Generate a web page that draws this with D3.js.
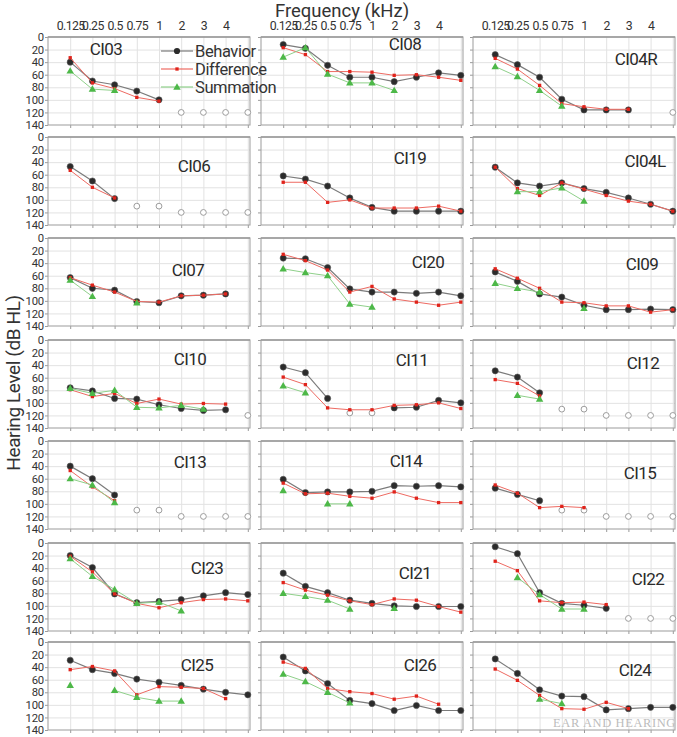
<!DOCTYPE html>
<html><head><meta charset="utf-8">
<script src="https://cdn.jsdelivr.net/npm/d3@7"></script>
<style>body{margin:0;background:#fff} svg{display:block}</style>
</head><body><svg id="c" width="677" height="737"></svg>
<script>
const _ = null;
const freqLabels = ["0.125","0.25","0.5","0.75","1","2","3","4",""];
const yTicks = [0,20,40,60,80,100,120,140];
const panelNames = ["CI03","CI08","CI04R","CI06","CI19","CI04L","CI07","CI20","CI09",
  "CI10","CI11","CI12","CI13","CI14","CI15","CI23","CI21","CI22","CI25","CI26","CI24"];
const seriesNames = ["Behavior","Difference","Summation"];

// thresholds (dB HL) at 0.125,0.25,0.5,0.75,1,2,3,4,8 kHz, one row per panel
const behavior = [
  [40,70,76,86,100,_,_,_,_],        // CI03
  [12,18,45,64,64,71,64,57,61],     // CI08
  [28,44,64,99,116,116,116,_,_],    // CI04R
  [47,70,98,_,_,_,_,_,_],           // CI06
  [62,67,78,97,112,118,118,118,118],// CI19
  [48,73,78,73,82,88,97,107,118],   // CI04L
  [63,80,83,101,103,92,91,89,_],    // CI07
  [32,33,47,81,86,86,88,86,92],     // CI20
  [54,69,89,94,107,114,114,113,114],// CI09
  [76,81,93,94,103,109,112,111,_],  // CI10
  [43,52,93,_,_,108,107,96,100],    // CI11
  [49,59,84,_,_,_,_,_,_],           // CI12
  [40,60,86,_,_,_,_,_,_],           // CI13
  [61,82,81,81,80,71,72,71,73],     // CI14
  [75,85,95,_,_,_,_,_,_],           // CI15
  [20,39,81,95,93,90,84,79,82],     // CI23
  [48,69,79,91,96,100,101,101,101], // CI21
  [6,17,79,96,99,104,_,_,_],        // CI22
  [29,44,50,59,64,69,75,80,84],     // CI25
  [24,46,66,93,98,109,101,109,109], // CI26
  [27,50,76,86,87,108,106,104,104]  // CI24
];
const difference = [
  [33,73,82,96,102,_,_,_,_],
  [17,28,55,55,56,61,60,64,69],
  [34,51,77,106,111,115,115,_,_],
  [53,80,97,_,_,_,_,_,_],
  [72,72,104,100,113,113,113,110,118],
  [48,82,93,73,83,93,102,107,118],
  [63,75,86,101,102,92,91,89,_],
  [26,36,51,86,77,97,102,107,102],
  [49,64,80,102,103,108,108,118,114],
  [79,90,85,101,94,102,101,102,_],
  [59,71,108,111,111,104,103,100,109],
  [63,69,89,_,_,_,_,_,_],
  [47,73,95,_,_,_,_,_,_],
  [67,84,83,88,91,81,91,98,98],
  [70,83,106,104,106,_,_,_,_],
  [21,46,81,96,103,95,90,89,92],
  [63,75,83,92,98,89,91,101,110],
  [29,44,92,95,94,98,_,_,_],
  [44,39,46,84,71,72,74,90,_],
  [32,42,74,79,82,91,86,99,_],
  [43,61,85,106,107,96,106,_,_]
];
const summation = [
  [54,83,85,_,_,_,_,_,_],
  [32,17,59,73,73,85,_,_,_],
  [47,63,85,110,_,_,_,_,_],
  [_,_,_,_,_,_,_,_,_],
  [_,_,_,_,_,_,_,_,_],
  [_,87,87,81,102,_,_,_,_],
  [67,93,_,103,_,_,_,_,_],
  [49,55,60,105,110,_,_,_,_],
  [72,80,86,_,112,_,_,_,_],
  [77,85,80,107,108,104,110,_,_],
  [73,84,_,_,_,_,_,_,_],
  [_,88,94,_,_,_,_,_,_],
  [60,70,98,_,_,_,_,_,_],
  [79,_,100,100,_,_,_,_,_],
  [_,_,_,_,_,_,_,_,_],
  [25,53,74,96,94,108,_,_,_],
  [80,85,91,105,_,104,_,_,_],
  [_,55,82,105,105,_,_,_,_],
  [69,_,77,88,94,94,_,_,_],
  [51,63,80,97,_,_,_,_,_],
  [_,_,91,98,_,_,_,_,_]
];
// no-response markers (open circles)
const noResponse = [
  [_,_,_,_,_,120,120,120,120],
  [_,_,_,_,_,_,_,_,_],
  [_,_,_,_,_,_,_,_,120],
  [_,_,_,110,110,120,120,120,120],
  [_,_,_,_,_,_,_,_,_],
  [_,_,_,_,_,_,_,_,_],
  [_,_,_,_,_,_,_,_,_],
  [_,_,_,_,_,_,_,_,_],
  [_,_,_,_,_,_,_,_,_],
  [_,_,_,_,_,_,_,_,120],
  [_,_,_,116,116,_,_,_,_],
  [_,_,_,110,110,120,120,120,120],
  [_,_,_,110,110,120,120,120,120],
  [_,_,_,_,_,_,_,_,_],
  [_,_,_,110,110,120,120,120,120],
  [_,_,_,_,_,_,_,_,_],
  [_,_,_,_,_,_,_,_,_],
  [_,_,_,_,_,_,120,120,120],
  [_,_,_,_,_,_,_,_,_],
  [_,_,_,_,_,_,_,_,_],
  [_,_,_,_,_,_,_,_,_]
];

// ---------- layout ----------
const FONT = "Roboto, 'Open Sans', 'DejaVu Sans', sans-serif";
const colLeft = [48, 261, 473];
const rowTop = [37, 137, 238, 340, 441, 543, 642];
const pw = 202, ph = 88, step = 22.2;
const labelPos = [[106,55],[405,50],[636,65],[194,172],[410,164],[645,167],[188,276],[428,268],[642,270],
  [190,365],[412,366],[643,369],[190,468],[406,467],[640,479],[207,574],[415,579],[648,585],[197,671],[420,671],[635,676]];
const colors = {
  bLine:"#7b7b7b", bDot:"#2b2b2b",
  dLine:"#ee6a62", dDot:"#e0231b",
  sLine:"#8fd08a", sDot:"#4db848"
};

const svg = d3.select("#c");
svg.append("rect").attr("width",677).attr("height",737).attr("fill","#fff");

const x = d3.scalePoint().domain(d3.range(9)).range([step, step*9]);
const y = d3.scaleLinear().domain([0,140]).range([0, ph]);

function drawSeries(g, vals, lineColor, width, kind, dotColor) {
  const pts = vals.map((v,i)=>({i,v}));
  const line = d3.line().defined(d=>d.v!==null).x(d=>x(d.i)).y(d=>y(d.v));
  g.append("path").attr("d", line(pts)).attr("fill","none")
    .attr("stroke", lineColor).attr("stroke-width", width);
  const defined = pts.filter(d=>d.v!==null);
  if (kind === "b") {
    g.selectAll(null).data(defined).join("circle")
      .attr("cx",d=>x(d.i)).attr("cy",d=>y(d.v)).attr("r",3.1)
      .attr("fill",dotColor).attr("stroke","#555").attr("stroke-width",0.6);
  } else if (kind === "d") {
    g.selectAll(null).data(defined).join("path")
      .attr("transform",d=>`translate(${x(d.i)},${y(d.v)})`)
      .attr("d", d3.symbol(d3.symbolSquare, 11)()).attr("fill",dotColor);
  } else {
    g.selectAll(null).data(defined).join("path")
      .attr("transform",d=>`translate(${x(d.i)},${y(d.v)+0.5})`)
      .attr("d", d3.symbol(d3.symbolTriangle, 24)()).attr("fill",dotColor);
  }
}

panelNames.forEach((name, p) => {
  const r = Math.floor(p/3), c = p%3;
  const g = svg.append("g").attr("transform", `translate(${colLeft[c]},${rowTop[r]})`);
  // grid
  g.append("g").call(d3.axisBottom(x).tickSize(-ph).tickFormat(""))
    .attr("transform", `translate(0,${ph})`)
    .call(a=>a.select(".domain").remove())
    .call(a=>a.selectAll("line").attr("stroke","#e2e2e2"));
  g.append("g").call(d3.axisLeft(y).tickValues(yTicks.slice(1,-1)).tickSize(-pw).tickFormat(""))
    .call(a=>a.select(".domain").remove())
    .call(a=>a.selectAll("line").attr("stroke","#e2e2e2"));
  // small outer ticks
  g.append("g").attr("transform", `translate(0,${ph})`)
    .call(d3.axisBottom(x).tickSize(3).tickFormat(""))
    .call(a=>a.select(".domain").remove())
    .call(a=>a.selectAll("line").attr("stroke","#9a9a9a"));
  const yAx = g.append("g").call(d3.axisLeft(y).tickValues(yTicks).tickSize(3)
      .tickFormat(c===0 ? d3.format("d") : ""))
    .call(a=>a.select(".domain").remove())
    .call(a=>a.selectAll("line").attr("stroke","#9a9a9a"));
  yAx.selectAll("text").attr("font-family",FONT).attr("font-size",11.3).attr("fill","#333")
    .attr("x",-4).attr("letter-spacing","-0.2");
  // frame
  g.append("rect").attr("width",pw).attr("height",ph).attr("fill","none")
    .attr("stroke","#a5a5a5").attr("stroke-width",1.1);
  g.append("line").attr("x1",0).attr("x2",pw).attr("stroke","#9a9a9a").attr("stroke-width",1.4);
  // top tick labels
  if (r === 0) {
    const xa = g.append("g").call(d3.axisTop(x).tickSize(0).tickPadding(7)
      .tickFormat(i=>freqLabels[i]))
      .call(a=>a.select(".domain").remove());
    xa.selectAll("text").attr("font-family",FONT).attr("font-size",12.3).attr("fill","#333")
      .attr("letter-spacing","-0.6");
  }
  // no response circles
  const nr = noResponse[p].map((v,i)=>({i,v})).filter(d=>d.v!==null);
  g.selectAll(null).data(nr).join("circle")
    .attr("cx",d=>x(d.i)).attr("cy",d=>y(d.v)).attr("r",2.9)
    .attr("fill","#fff").attr("stroke","#9d9d9d").attr("stroke-width",1);
  drawSeries(g, behavior[p], colors.bLine, 1.2, "b", colors.bDot);
  drawSeries(g, difference[p], colors.dLine, 1, "d", colors.dDot);
  drawSeries(g, summation[p], colors.sLine, 1, "s", colors.sDot);
  // panel label
  svg.append("text").attr("x",labelPos[p][0]).attr("y",labelPos[p][1])
    .attr("text-anchor","middle").attr("font-family",FONT).attr("font-size",17)
    .attr("letter-spacing","-0.6").attr("fill","#2a2a2a").text(name);
});

// legend
const legY = [51, 69, 87];
const legStyle = [[colors.bLine,colors.bDot,"b"],[colors.dLine,colors.dDot,"d"],[colors.sLine,colors.sDot,"s"]];
seriesNames.forEach((s,k)=>{
  const lg = svg.append("g").attr("transform",`translate(161,${legY[k]})`);
  lg.append("line").attr("x1",0).attr("x2",32).attr("stroke",legStyle[k][0]).attr("stroke-width",1.2);
  if (k===0) lg.append("circle").attr("cx",16).attr("r",3.1).attr("fill",colors.bDot);
  if (k===1) lg.append("path").attr("transform","translate(16,0)").attr("d",d3.symbol(d3.symbolSquare,11)()).attr("fill",colors.dDot);
  if (k===2) lg.append("path").attr("transform","translate(16,0.5)").attr("d",d3.symbol(d3.symbolTriangle,24)()).attr("fill",colors.sDot);
  lg.append("text").attr("x",34).attr("y",6).attr("font-family",FONT).attr("font-size",16.5)
    .attr("letter-spacing","-0.4").attr("fill","#333").text(s);
});

// axis titles
svg.append("text").attr("x",342).attr("y",17).attr("text-anchor","middle")
  .attr("font-family",FONT).attr("font-size",18.5).attr("fill","#333").text("Frequency (kHz)");
svg.append("text").attr("transform","translate(20,383) rotate(-90)").attr("text-anchor","middle")
  .attr("font-family",FONT).attr("font-size",19).attr("letter-spacing","-0.4")
  .attr("fill","#333").text("Hearing Level (dB HL)");
// watermark
svg.append("text").attr("x",676).attr("y",727).attr("text-anchor","end")
  .attr("font-family","'Liberation Serif','DejaVu Serif',serif").attr("font-size",12.5)
  .attr("letter-spacing","0.6").attr("fill","#bcbcbc").text("EAR AND HEARING");
</script>
</body></html>
